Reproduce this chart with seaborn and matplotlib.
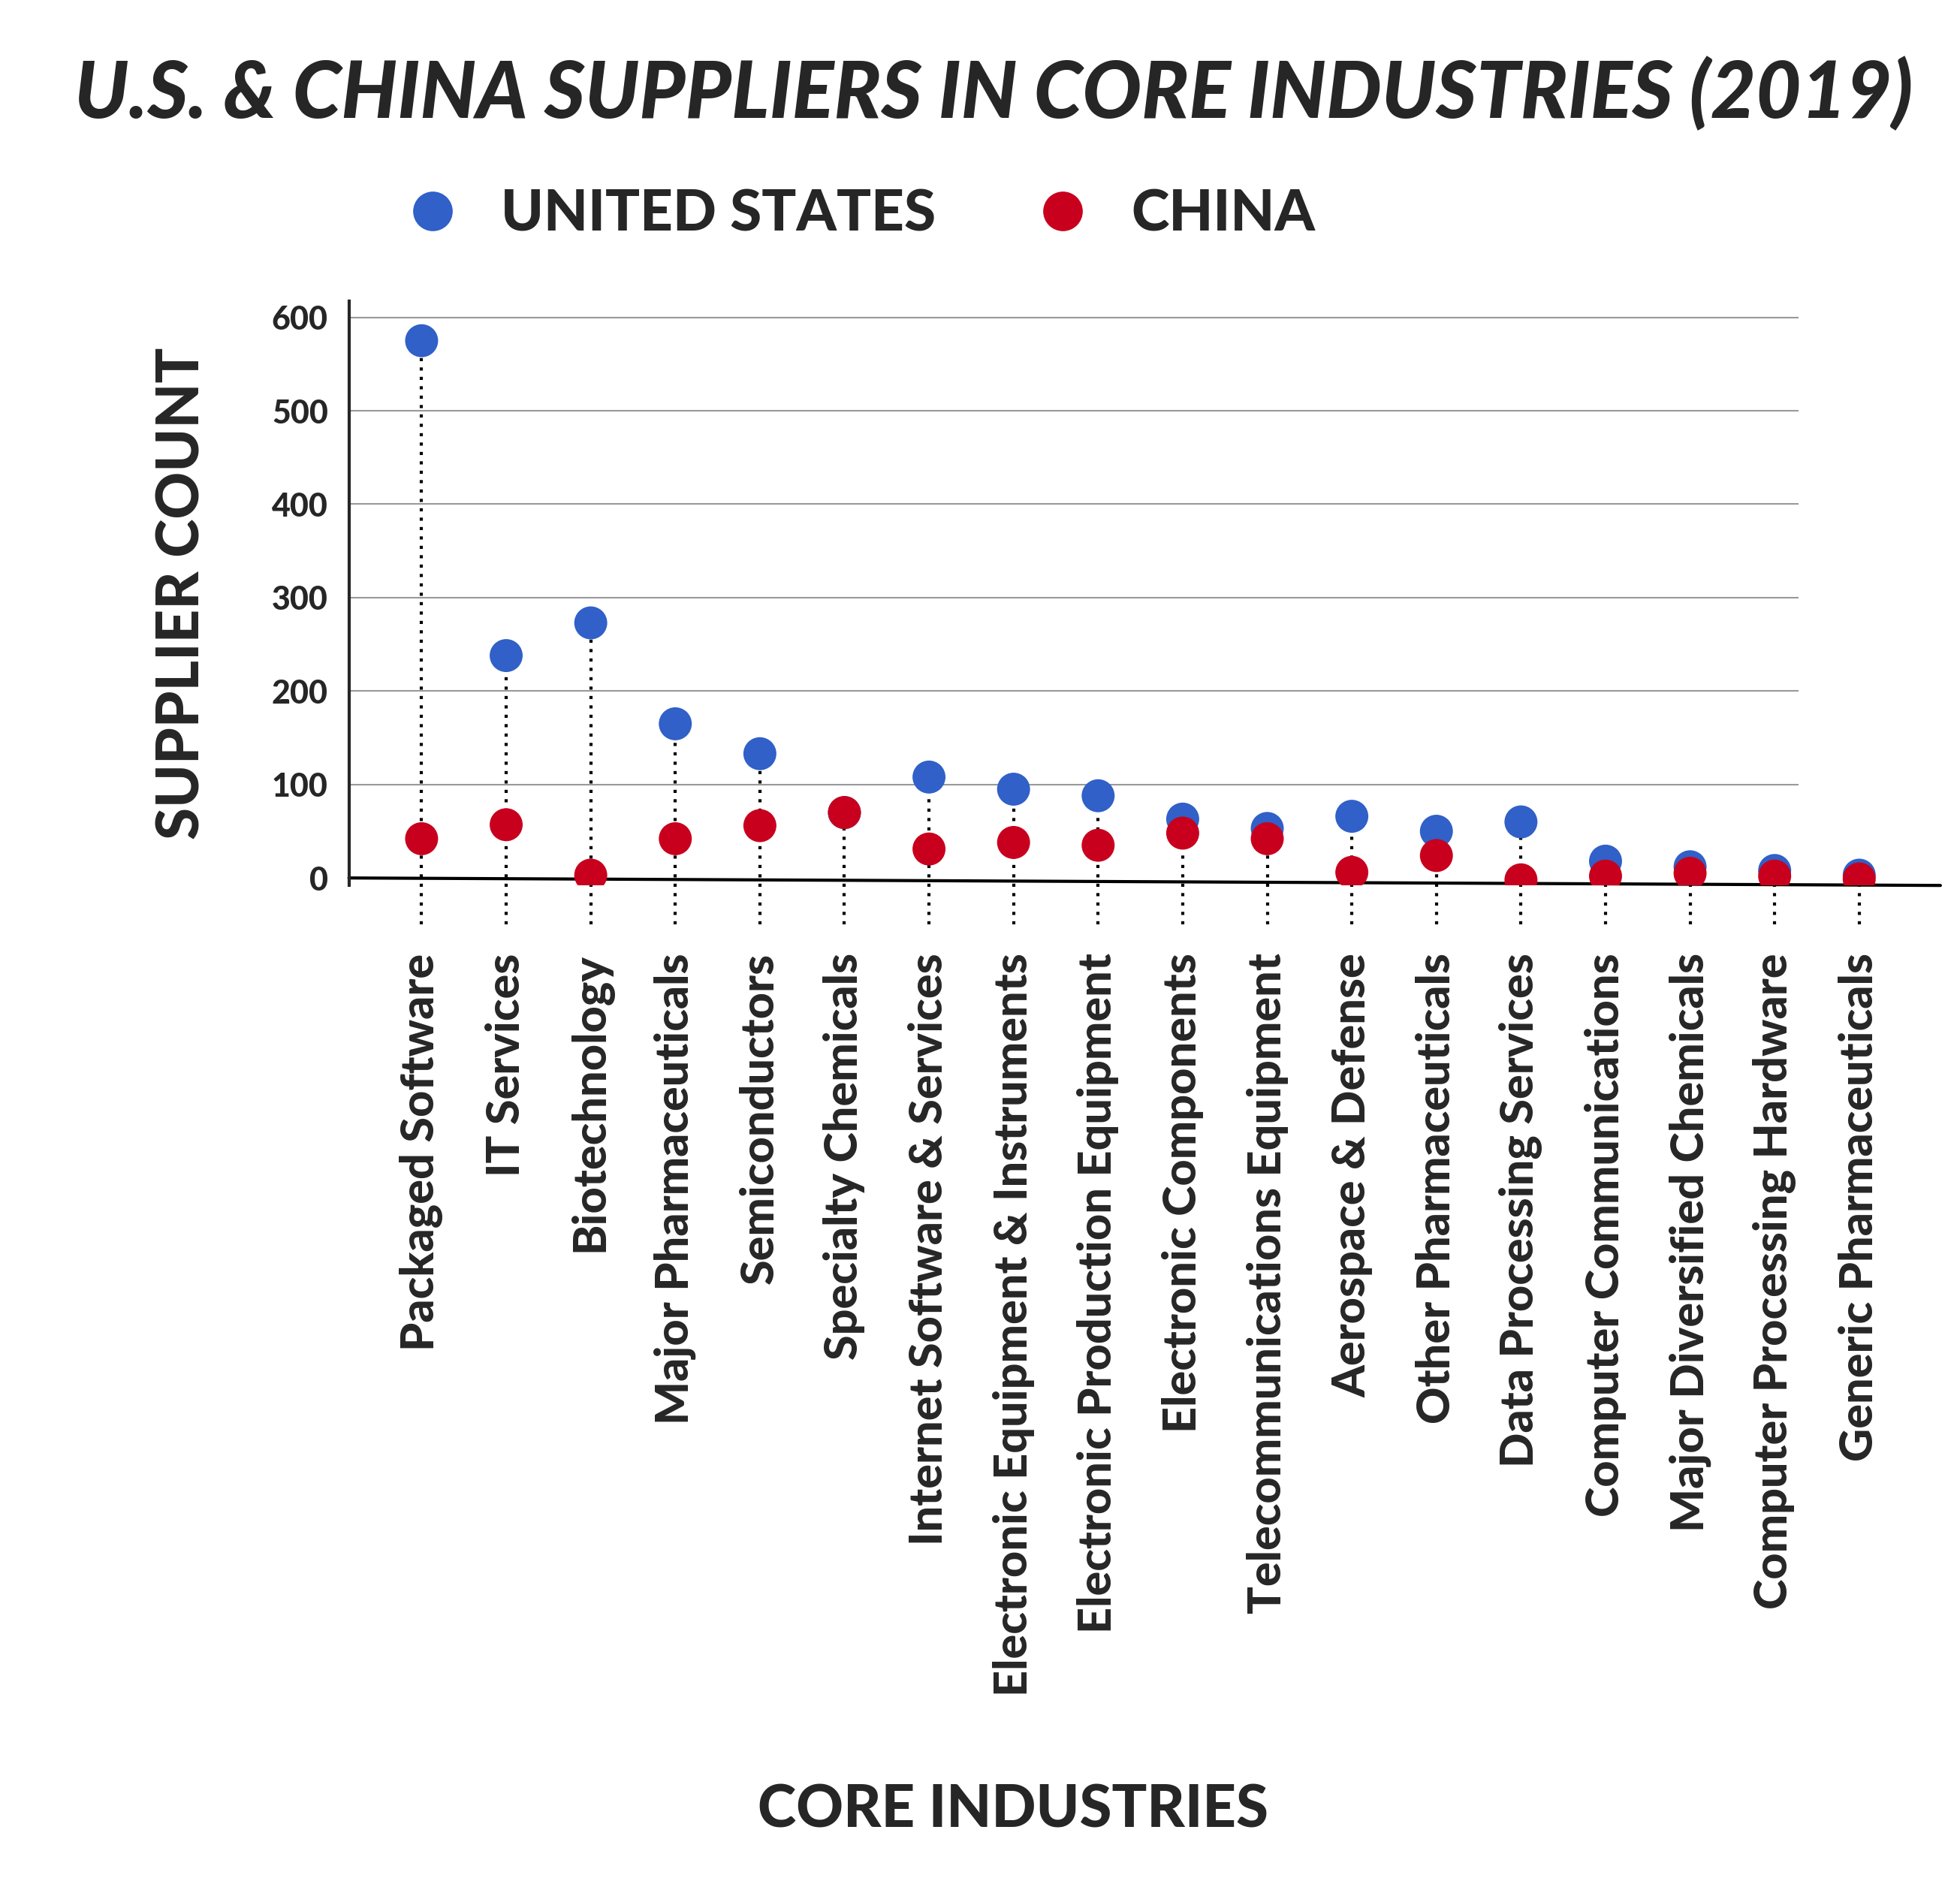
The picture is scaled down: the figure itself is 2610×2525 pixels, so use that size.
import pandas as pd
import matplotlib
import matplotlib.pyplot as plt
import seaborn as sns

matplotlib.use('Agg')

industries = ['Packaged Software', 'IT Services', 'Biotechnology', 'Major Pharmaceuticals',
              'Semiconductors', 'Specialty Chemicals', 'Internet Software & Services',
              'Electronic Equipment & Instruments', 'Electronic Production Equipment',
              'Electronic Components', 'Telecommunications Equipment', 'Aerospace & Defense',
              'Other Pharmaceuticals', 'Data Processing Services', 'Computer Communications',
              'Major Diversified Chemicals', 'Computer Processing Hardware', 'Generic Pharmaceuticals']
us_counts = [575, 238, 273, 165, 133, 70, 108, 95, 88, 63, 53, 66, 50, 60, 18, 12, 8, 3]
china_counts = [42, 57, 3, 42, 56, 70, 31, 38, 35, 48, 42, 6, 24, -2, 2, 5, 2, -1]

sns.set_style('white')
plt.rcParams['font.family'] = ['Lato', 'DejaVu Sans']

df = pd.concat([
    pd.DataFrame({'industry': industries, 'count': us_counts, 'country': 'UNITED STATES'}),
    pd.DataFrame({'industry': industries, 'count': china_counts, 'country': 'CHINA'}),
], ignore_index=True)
df['x'] = df['industry'].map({name: i for i, name in enumerate(industries)})

fig = plt.figure(figsize=(26.1, 25.25), dpi=100)
ax = fig.add_axes([0.178, 0.533, 0.812, 0.308])

# gridlines and dotted stems
for v in [100, 200, 300, 400, 500, 600]:
    ax.hlines(v, -0.86, 16.28, color='#999999', lw=1.5, zorder=0)
for i in range(len(industries)):
    ax.vlines(i, -50, max(us_counts[i], china_counts[i]), color='black', lw=3,
              linestyles=(0, (1, 2)), zorder=1, clip_on=False)
ax.plot([-0.86, 17.96], [0, -8], color='black', lw=3, zorder=1, clip_on=False)

sns.scatterplot(data=df, x='x', y='count', hue='country',
                palette={'UNITED STATES': '#3060c8', 'CHINA': '#c8001e'},
                s=1000, edgecolor='none', ax=ax, zorder=3, legend=True)

ax.set_xlim(-0.86, 17.96)
ax.set_ylim(-8, 617)
ax.set_yticks([0, 100, 200, 300, 400, 500, 600])
ax.set_yticklabels(['0', '100', '200', '300', '400', '500', '600'],
                   fontsize=31, fontweight='black')
ax.set_xticks(range(len(industries)))
ax.set_xticklabels(industries, rotation=90, fontsize=44, fontweight='black')
ax.tick_params(axis='x', length=0, pad=65)
ax.tick_params(axis='y', length=12, width=2.5, direction='in', pad=20)
for side in ['top', 'right', 'bottom']:
    ax.spines[side].set_visible(False)
ax.spines['left'].set_linewidth(3)
ax.set_xlabel('')
ax.set_ylabel('SUPPLIER COUNT', fontsize=56, fontweight='black', labelpad=60)
fig.text(0.517, 0.045, 'CORE INDUSTRIES', ha='center', va='center',
         fontsize=56, fontweight='black')

handles, labels = ax.get_legend_handles_labels()
ax.legend_.remove()
fig.legend(handles, labels, loc='center left', bbox_to_anchor=(0.165, 0.887),
           ncol=2, frameon=False, markerscale=1.2, handletextpad=0.2,
           columnspacing=1.2, prop={'size': 55, 'weight': 'black'})

fig.suptitle('U.S. & CHINA SUPPLIERS IN CORE INDUSTRIES (2019)', x=0.507, y=0.97,
             fontsize=75, fontweight='black', style='italic')

fig.savefig('out.png', dpi=100)
